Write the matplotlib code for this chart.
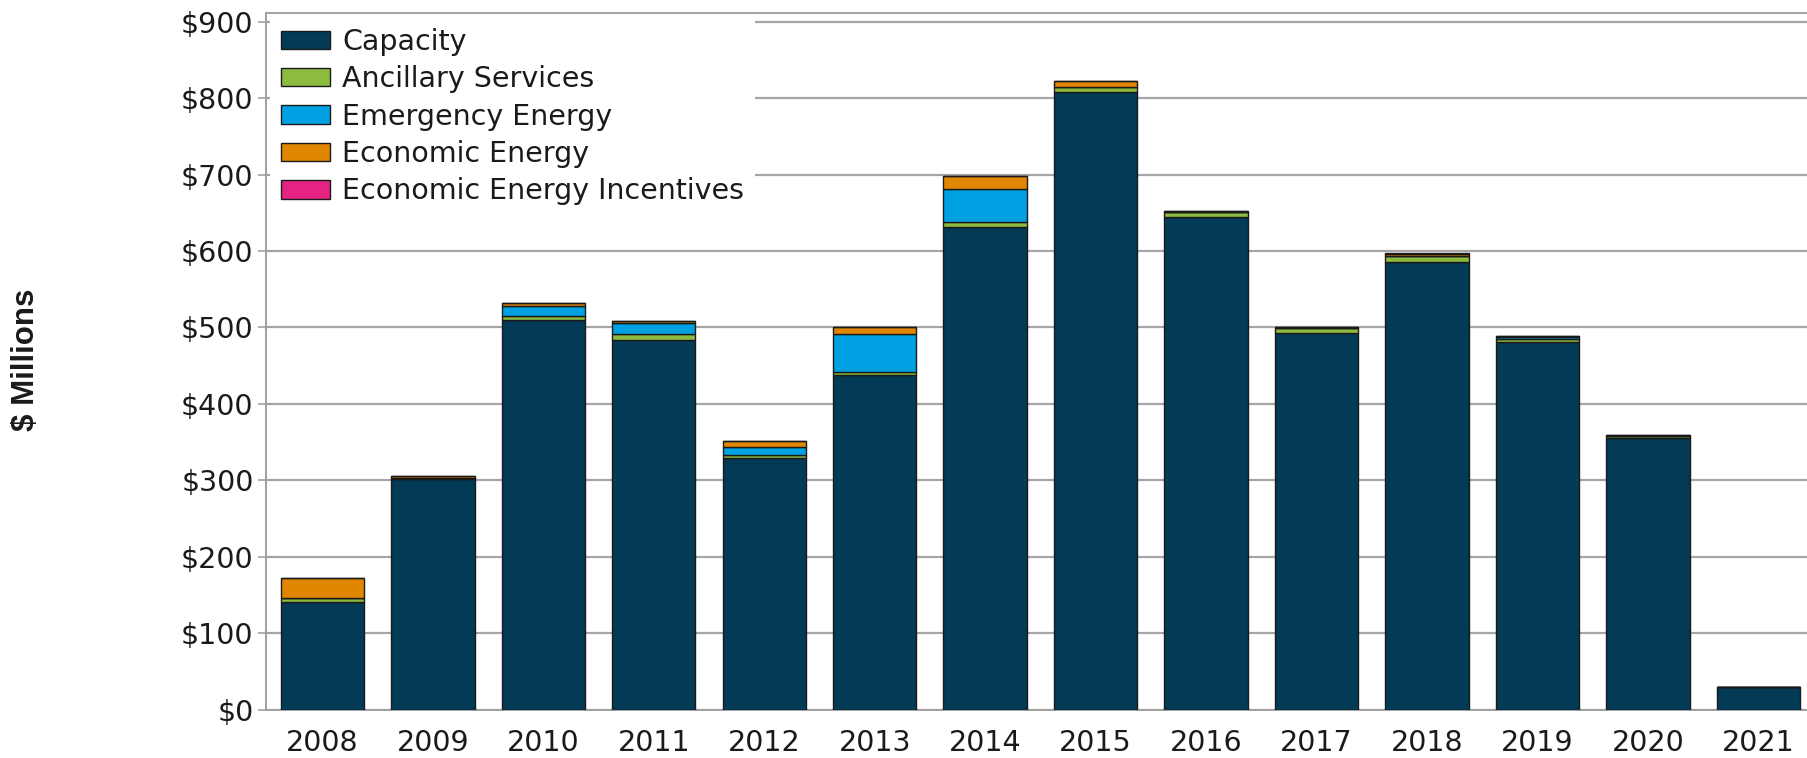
import numpy as np
import matplotlib
matplotlib.use("Agg")
import matplotlib.pyplot as plt
from matplotlib.ticker import FuncFormatter

# ---- data ($ millions) ----
years = [2008, 2009, 2010, 2011, 2012, 2013, 2014, 2015, 2016, 2017, 2018, 2019, 2020, 2021]
capacity = [141, 301.5, 510, 483, 329, 437.7, 631, 807.5, 645, 493, 585.5, 481, 355, 30]
ancillary = [5, 1, 5, 8.5, 4.8, 4, 7, 6.5, 5.5, 6, 8.5, 4, 2.5, 0]
emergency = [0, 0, 13, 14.7, 10.2, 49.7, 43, 0, 0, 0, 0, 3, 0, 0]
economic = [26.5, 3.5, 4, 2, 8, 8.7, 17, 8, 2, 1, 2, 1.5, 2, 0]
incentives = [0, 0, 0, 0, 0, 0, 0.5, 0, 0, 0, 1.5, 0, 0, 0]

series = [
    ("Capacity", capacity, "#033a56"),
    ("Ancillary Services", ancillary, "#8dbb3f"),
    ("Emergency Energy", emergency, "#00a1e2"),
    ("Economic Energy", economic, "#e08600"),
    ("Economic Energy Incentives", incentives, "#e42382"),
]

fig = plt.figure(figsize=(18.07, 7.58), dpi=100)
ax = fig.add_axes([266 / 1807, 48.3 / 758, 1 - 266 / 1807, 696.4 / 758])

x = np.arange(len(years))
bottom = np.zeros(len(years))
for name, vals, color in series:
    vals = np.array(vals, dtype=float)
    ax.bar(x, vals, width=0.755, bottom=bottom, color=color,
           edgecolor="#1a1a1a", linewidth=1.0, label=name, zorder=3)
    bottom += vals

ax.set_xlim(-0.51, 13.44)
ax.set_ylim(0, 911)
ax.set_yticks(np.arange(0, 901, 100))
ax.yaxis.set_major_formatter(FuncFormatter(lambda v, _: f"${v:,.0f}"))
ax.set_xticks(x)
ax.set_xticklabels([str(y) for y in years])

ax.grid(axis="y", color="#a6a6a6", linewidth=1.6, zorder=0)
ax.set_axisbelow(True)

for side in ["left", "top", "bottom"]:
    ax.spines[side].set_color("#a0a0a0")
    ax.spines[side].set_linewidth(1.4)
ax.spines["right"].set_visible(False)

ax.tick_params(axis="y", direction="inout", length=12, width=1.2, color="#a0a0a0",
               labelsize=20.5, labelcolor="#1a1a1a", pad=3)
ax.tick_params(axis="x", length=0, labelsize=20.5, labelcolor="#1a1a1a", pad=14)

fig.text(26 / 1807, 1 - 360 / 758, "$ Millions", rotation=90, ha="center", va="center",
         fontsize=22.5, fontweight="bold", family="Liberation Sans", color="#1a1a1a")

leg = ax.legend(loc="upper left", fontsize=20.5, frameon=True, fancybox=False,
                edgecolor="none", facecolor="white", framealpha=1.0,
                handlelength=1.75, handleheight=0.62, handletextpad=0.42,
                labelspacing=0.33, borderpad=0.36, borderaxespad=0.15)
leg.set_zorder(5)
for t in leg.get_texts():
    t.set_color("#1a1a1a")

fig.savefig("out.png", dpi=100)
